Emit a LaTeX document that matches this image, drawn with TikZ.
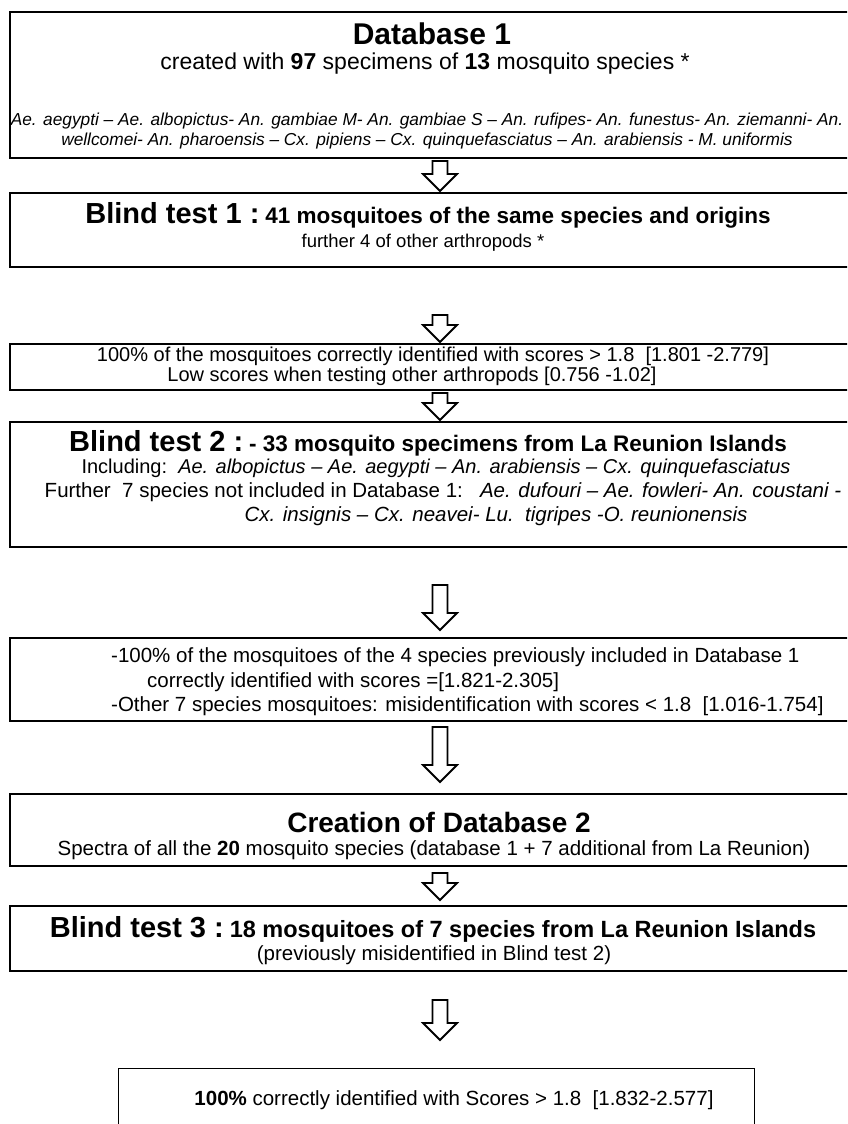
\documentclass[tikz,border=0pt]{standalone}
\usepackage{fontspec}
\setmainfont{Liberation Sans}
\newcommand\bt[1]{{\fontsize{29}{32}\selectfont\bfseries #1}\hspace{6pt}}
\begin{document}
\begin{tikzpicture}[x=1pt,y=-1pt,
  box/.style={draw, line width=1.8pt, inner sep=0pt, anchor=north west},
  txt/.style={inner sep=0pt, anchor=center},
  blk/.style={draw, line width=1.8pt, fill=white, line join=miter},
  big/.style={font=\fontsize{30}{34}\selectfont\bfseries},
  body/.style={font=\fontsize{20.5}{24}\selectfont},
  spec/.style={font=\fontsize{17.3}{20}\selectfont\itshape}]
\useasboundingbox (0,0) rectangle (847,1124);
\clip (0,0) rectangle (847,1124);
\newcommand\flowarrow[3]{% x, top, tip
  \draw[blk] (#1-7.5,#2) -- (#1+7.5,#2) -- (#1+7.5,#3-17) -- (#1+17,#3-17) -- (#1,#3) -- (#1-17,#3-17) -- (#1-7.5,#3-17) -- cycle;}
% boxes
\node[box, line width=2.4pt, minimum width=866pt, minimum height=146pt] (b1) at (9,11) {};
\node[box, minimum width=866pt, minimum height=74pt] (b2) at (9,192) {};
\node[box, minimum width=866pt, minimum height=46pt] (b3) at (9,343) {};
\node[box, minimum width=866pt, minimum height=125pt] (b4) at (9,421) {};
\node[box, minimum width=866pt, minimum height=83pt] (b5) at (9,637) {};
\node[box, minimum width=866pt, minimum height=72pt] (b6) at (9,793) {};
\node[box, minimum width=866pt, minimum height=65pt] (b7) at (9,905) {};
\node[box, line width=1.2pt, minimum width=636pt, minimum height=80pt] (b8) at (118,1068) {};
% texts
\node[txt, big] (t1a) at (432,34) {Database 1};
\node[txt, font=\fontsize{23}{27}\selectfont] (t1b) at (425,64) {created with \textbf{97} specimens of \textbf{13} mosquito species *};
\node[txt, spec] (t1c) at (427,121) {Ae. aegypti – Ae. albopictus- An. gambiae M- An. gambiae S – An. rufipes- An. funestus- An. ziemanni- An.};
\node[txt, spec] (t1d) at (427,141) {wellcomei- An. pharoensis – Cx. pipiens – Cx. quinquefasciatus – An. arabiensis - M. uniformis};
\node[txt] (t2a) at (428,215) {\bt{Blind test 1 :}{\fontsize{22.5}{26}\selectfont\bfseries 41 mosquitoes of the same species and origins}};
\node[txt, font=\fontsize{18.5}{22}\selectfont] (t2b) at (423,243) {further 4 of other arthropods *};
\node[txt, font=\fontsize{20}{24}\selectfont] (t3a) at (433,356) {100\% of the mosquitoes correctly identified with scores > 1.8~~[1.801 -2.779]};
\node[txt, font=\fontsize{20}{24}\selectfont] (t3b) at (412,376) {Low scores when testing other arthropods [0.756 -1.02]};
\node[txt] (t4a) at (428,443) {\bt{Blind test 2 :}{\fontsize{22.5}{26}\selectfont\bfseries - 33 mosquito specimens from La Reunion Islands}};
\node[txt, font=\fontsize{20}{24}\selectfont] (t4b) at (436,468) {Including:~~\textit{Ae. albopictus – Ae. aegypti – An. arabiensis – Cx. quinquefasciatus}};
\node[txt, body] (t4c) at (443,492) {Further~~7 species not included in Database 1:~~~\textit{Ae. dufouri – Ae. fowleri- An. coustani -}};
\node[txt, body] (t4d) at (496,516) {\textit{Cx. insignis – Cx. neavei- Lu.~~tigripes -O. reunionensis}};
\node[txt, body, anchor=west] (t5a) at (111,657) {-100\% of the mosquitoes of the 4 species previously included in Database 1};
\node[txt, body, anchor=west] (t5b) at (147,682) {correctly identified with scores =[1.821-2.305]};
\node[txt, body, anchor=west] (t5c) at (111,706) {-Other 7 species mosquitoes: misidentification with scores < 1.8~~[1.016-1.754]};
\node[txt, font=\fontsize{28}{32}\selectfont\bfseries] (t6a) at (439,822) {Creation of Database 2};
\node[txt, body] (t6b) at (434,850) {Spectra of all the \textbf{20} mosquito species (database 1 + 7 additional from La Reunion)};
\node[txt] (t7a) at (433,929) {\bt{Blind test 3 :}{\fontsize{23.5}{27}\selectfont\bfseries 18 mosquitoes of 7 species from La Reunion Islands}};
\node[txt, body] (t7b) at (434,955) {(previously misidentified in Blind test 2)};
\node[txt, body] (t8a) at (454,1100) {\textbf{100\%} correctly identified with Scores > 1.8~~[1.832-2.577]};
% arrows
\flowarrow{440}{161}{191}
\flowarrow{440}{315}{342}
\flowarrow{440}{393}{420}
\flowarrow{440}{585}{630}
\flowarrow{440}{727}{782}
\flowarrow{440}{873}{900}
\flowarrow{440}{1000}{1040}
\end{tikzpicture}
\end{document}
